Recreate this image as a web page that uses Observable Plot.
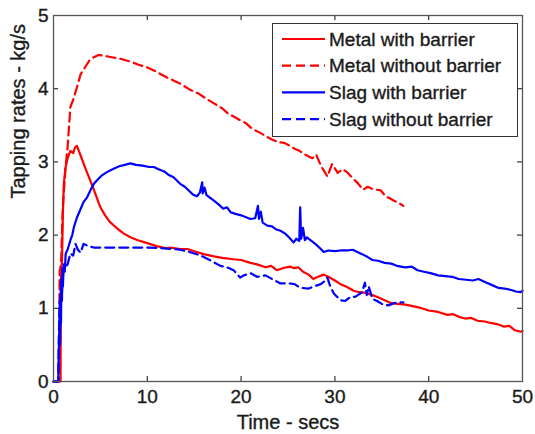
<!DOCTYPE html>
<html><head><meta charset="utf-8">
<script src="https://cdn.jsdelivr.net/npm/d3@7"></script>
<script src="https://cdn.jsdelivr.net/npm/@observablehq/plot@0.6"></script>
<style>body{margin:0;background:#fff} svg text{stroke:#1a1a1a;stroke-width:0.35px}</style>
</head><body><div id="chart"></div>
<script>
const xTicks = [0, 10, 20, 30, 40, 50];
const yTicks = [0, 1, 2, 3, 4, 5];
const seriesNames = ["Metal with barrier", "Metal without barrier", "Slag with barrier", "Slag without barrier"];
const seriesColors = ["#ff0000", "#ff0000", "#0000ff", "#0000ff"];
const seriesDash = [null, "9,5", null, "9,5"];

const metalWithX = [0,0.6,0.75,0.78,0.82,0.9,1.0,1.1,1.28,1.5,1.8,2.1,2.3,2.5,2.7,3.0,3.2,3.5,3.9,4.3,4.7,5.0,5.5,6.0,6.8,7.5,8.2,9.0,10,11,12,12.5,13.5,14.3,15,16,17.1,18,19.2,20,21,21.7,22.6,23.2,23.8,24.5,25.2,25.6,26.1,26.6,27.2,27.7,28.2,28.8,29.3,30,30.6,31.3,32,32.6,33.3,34,34.6,35.3,36,36.7,37.5,38.3,39,40,41,42,42.6,43.3,43.9,44.5,45.2,46,46.6,47.4,48,48.6,49.2,49.8,50];
const metalWithY = [0,0,0,1.2,1.56,1.6,2.3,2.7,2.92,3.05,3.15,3.12,3.2,3.22,3.15,3.05,2.98,2.88,2.75,2.62,2.48,2.38,2.27,2.18,2.09,2.02,1.97,1.93,1.89,1.85,1.82,1.83,1.81,1.81,1.78,1.74,1.71,1.69,1.67,1.66,1.62,1.60,1.56,1.58,1.52,1.55,1.57,1.55,1.56,1.50,1.46,1.40,1.43,1.46,1.43,1.38,1.33,1.29,1.24,1.22,1.21,1.18,1.15,1.11,1.07,1.06,1.05,1.03,1.01,0.97,0.95,0.91,0.92,0.88,0.86,0.87,0.83,0.82,0.80,0.78,0.75,0.76,0.70,0.68,0.69];

const metalWithoutX = [0,0.6,0.65,0.8,1.0,1.28,1.5,1.8,2.1,2.5,2.9,3.4,3.8,4.3,4.8,5.4,6.2,7.1,8.2,9.0,10,11,12,13,13.5,14.5,15.5,16.2,17.1,18,18.6,19.2,19.9,20.5,21.2,22,22.8,23.4,24,24.6,25.2,25.7,26.1,26.6,27.1,27.6,28.0,28.5,29.2,29.7,30.3,30.8,31.3,31.8,32.5,33,33.5,34,34.9,35.4,35.9,36.3,36.8,37.3];
const metalWithoutY = [0,0,1.5,1.6,2.4,2.92,3.2,3.75,3.85,4.02,4.2,4.3,4.38,4.43,4.46,4.45,4.43,4.41,4.37,4.33,4.29,4.23,4.16,4.10,4.07,3.99,3.93,3.87,3.80,3.73,3.66,3.62,3.57,3.53,3.45,3.40,3.34,3.30,3.27,3.26,3.22,3.18,3.16,3.12,3.08,3.05,3.10,2.95,2.80,2.97,2.85,2.90,2.86,2.79,2.70,2.62,2.66,2.63,2.61,2.53,2.50,2.47,2.44,2.40];

const slagWithX = [0,0.5,0.55,0.65,0.7,0.75,0.8,0.85,0.9,0.95,1.0,1.1,1.2,1.3,1.5,1.8,2.0,2.2,2.5,2.8,3.2,3.6,4.0,4.3,4.8,5.2,5.7,6.3,7.0,7.6,8.2,8.8,9.5,10.2,10.7,11.2,11.8,12.3,12.8,13.2,13.5,14.0,14.5,14.9,15.3,15.6,15.85,15.9,16.1,16.3,16.6,17.1,17.6,18.1,18.5,18.9,19.4,20.0,20.6,21.0,21.5,21.8,21.9,22.1,22.3,22.8,23.3,23.7,24.2,24.7,25.1,25.6,25.9,26.2,26.3,26.4,26.6,26.8,27.0,27.5,28.0,28.5,28.8,29.3,30,30.6,31.3,31.9,32.4,32.9,33.5,34,34.6,35.3,36,36.6,37.5,38.2,38.8,39.5,40.2,41,41.8,42.5,43.2,44,44.7,45.3,46,46.7,47.4,48.1,48.8,49.3,49.8,50];
const slagWithY = [0,0,0.3,0.9,0.5,1.2,0.8,1.4,1.1,1.55,1.3,1.6,1.5,1.75,1.8,1.93,2.0,2.12,2.24,2.33,2.45,2.52,2.63,2.70,2.77,2.82,2.86,2.90,2.94,2.96,2.98,2.96,2.95,2.93,2.93,2.90,2.87,2.82,2.79,2.74,2.70,2.66,2.60,2.55,2.53,2.58,2.72,2.57,2.65,2.55,2.52,2.47,2.42,2.36,2.38,2.31,2.29,2.27,2.24,2.22,2.23,2.40,2.22,2.32,2.17,2.13,2.12,2.08,2.06,2.02,1.97,1.90,1.95,1.92,2.38,1.95,2.10,1.93,1.97,1.92,1.87,1.81,1.77,1.79,1.78,1.79,1.79,1.80,1.77,1.74,1.70,1.66,1.65,1.62,1.61,1.58,1.56,1.57,1.52,1.50,1.48,1.45,1.44,1.43,1.40,1.39,1.38,1.40,1.36,1.32,1.28,1.27,1.25,1.23,1.22,1.24];

const slagWithoutX = [0,0.5,0.55,0.65,0.7,0.8,0.9,1.0,1.2,1.5,1.8,2.1,2.35,2.6,2.9,3.2,3.7,4.3,5.5,6.5,8,10.3,11.5,12.8,13.5,14.5,15.7,16.8,17.8,18.5,19.2,19.9,20.3,21,21.7,22.6,23.3,24.2,25.1,25.7,26.3,27.2,28.0,28.5,29.0,29.2,29.5,29.9,30.6,31.1,31.6,32.2,32.9,33.2,33.4,33.6,34,34.5,35,35.7,36.3,36.8,37.3];
const slagWithoutY = [0,0,0.5,1.1,0.7,1.4,1.2,1.5,1.55,1.6,1.75,1.72,1.88,1.80,1.76,1.88,1.85,1.83,1.83,1.83,1.83,1.83,1.82,1.81,1.80,1.77,1.72,1.65,1.58,1.56,1.52,1.42,1.45,1.48,1.43,1.45,1.40,1.34,1.34,1.33,1.28,1.27,1.31,1.33,1.38,1.42,1.30,1.20,1.11,1.10,1.15,1.16,1.22,1.35,1.18,1.30,1.13,1.10,1.06,1.04,1.07,1.08,1.08];

const xs = [metalWithX, metalWithoutX, slagWithX, slagWithoutX];
const ys = [metalWithY, metalWithoutY, slagWithY, slagWithoutY];
const tables = xs.map((xa, i) => xa.map((x, j) => ({x, y: ys[i][j], series: seriesNames[i]})));

const W = 535, H = 434, mL = 53, mR = 13, mT = 15, mB = 53;
const plotW = W - mL - mR, plotH = H - mT - mB;
const tickLen = 5;
const innerX = xTicks.slice(1, -1), innerY = yTicks.slice(1, -1);
const FONT = "'Liberation Sans', Arial, sans-serif";

const chart = Plot.plot({
  width: W, height: H, marginLeft: mL, marginRight: mR, marginTop: mT, marginBottom: mB,
  style: {fontFamily: FONT, fontSize: "19px", color: "#1a1a1a", background: "#fff", overflow: "visible"},
  x: {domain: [0, 50]},
  y: {domain: [0, 5]},
  marks: [
    ...tables.map((t, i) => Plot.line(t, {x: "x", y: "y", stroke: seriesColors[i], strokeWidth: 2.2, strokeDasharray: seriesDash[i], strokeLinejoin: "round"})),
    Plot.tickX(innerX, {x: d => d, stroke: "#333", strokeWidth: 1.2, insetTop: plotH - tickLen}),
    Plot.tickX(innerX, {x: d => d, stroke: "#333", strokeWidth: 1.2, insetBottom: plotH - tickLen}),
    Plot.tickY(innerY, {y: d => d, stroke: "#333", strokeWidth: 1.2, insetRight: plotW - tickLen}),
    Plot.tickY(innerY, {y: d => d, stroke: "#333", strokeWidth: 1.2, insetLeft: plotW - tickLen}),
    Plot.frame({stroke: "#555", strokeWidth: 1.3}),
    Plot.axisX(xTicks, {tickSize: 0, tickPadding: 8, label: null, fontSize: 19, tickFormat: d3.format("d")}),
    Plot.axisY(yTicks, {tickSize: 0, tickPadding: 5, label: null, fontSize: 19, tickFormat: d3.format("d")}),
    Plot.text(["Time - secs"], {frameAnchor: "bottom", text: d => d, dy: 47, lineAnchor: "bottom", fontSize: 20, fill: "#1a1a1a"}),
    Plot.text(["Tapping rates - kg/s"], {frameAnchor: "left", text: d => d, dx: -29, rotate: -90, lineAnchor: "bottom", fontSize: 20, fill: "#1a1a1a"})
  ]
});
document.getElementById("chart").appendChild(chart);

// Legend inside the plot area (upper right)
const svg = d3.select(chart);
const lg = svg.append("g").attr("font-family", FONT).attr("font-size", 19).attr("text-anchor", "start");
lg.append("rect").attr("x", 272.5).attr("y", 23.5).attr("width", 245).attr("height", 113)
  .attr("fill", "#fff").attr("stroke", "#333").attr("stroke-width", 1);
seriesNames.forEach((name, i) => {
  const cy = 39 + i * 26.7;
  lg.append("line").attr("x1", 282).attr("x2", 325).attr("y1", cy).attr("y2", cy)
    .attr("stroke", seriesColors[i]).attr("stroke-width", 2.2).attr("stroke-dasharray", seriesDash[i]);
  lg.append("text").attr("x", 329).attr("y", cy).attr("dy", "0.35em").attr("fill", "#1a1a1a").text(name);
});
</script></body></html>
